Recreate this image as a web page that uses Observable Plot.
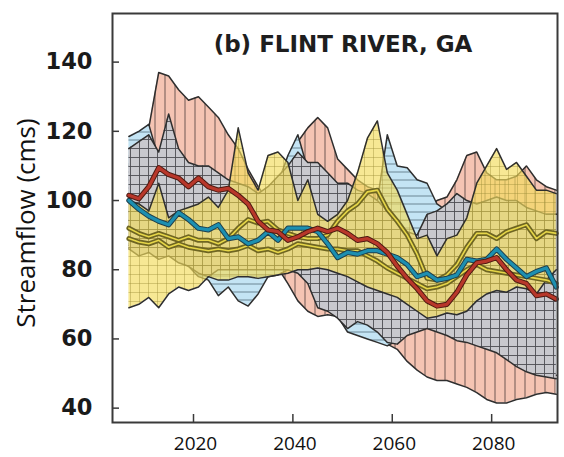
<!DOCTYPE html>
<html><head><meta charset="utf-8">
<script src="https://cdn.jsdelivr.net/npm/d3@7"></script>
<script src="https://cdn.jsdelivr.net/npm/@observablehq/plot@0.6"></script>
<style>html,body{margin:0;padding:0;background:#fff}#chart svg{display:block}</style>
</head><body><div id="chart"></div>
<script>
const years = [2007,2009,2011,2013,2015,2017,2019,2021,2023,2025,2027,2029,2031,2033,2035,2037,2039,2041,2043,2045,2047,2049,2051,2053,2055,2057,2059,2061,2063,2065,2067,2069,2071,2073,2075,2077,2079,2081,2083,2085,2087,2089,2091,2093];

const pinkHi = [110,112,121,137,136,132,129,130,127,124,119,115,109,104,100,102,108,117,121,124,121,112,109,106,104,103,101,99,97,95,97,100,101,106,113,114,108,106,106,107,110,106,104,103];
const pinkLo = [87.5,86,86.5,85,85.5,84,83,82,81,81,81,81,81,81,81,80.5,76,71,68,66.5,67,66.5,62.5,61.5,60.5,59.5,58.5,57,53.5,51,49,48,48,47,46,44.5,42.5,41.5,41.5,42.5,43,44,44.5,44];
const blueHi = [118.5,120,122,112,110,108,106,105,104,103,102,101,100,100,102,105,113,119,109,107,105,103,102,101,101,100,119,110,109.5,106,105,99,97,96,96,97,98,99,99,98,97,96,96,96];
const blueLo = [87,85,86,84,85,83,81,78,77,72.5,75,71,69.5,73,78,78.5,80,79.5,76.5,69.5,68.5,66.5,62,61,60,59,58,59.5,62,63,64,63,62,60.5,60,59,58,57,55,53,51.5,50.5,50,49.5];
const grayHi = [115,117,119,114,125,115,111,110,110,108,106,105,104,102,104,107,110,114,111,111,108,105,105,103,102,100,97,94,91,90,96,97,99,102,100,99,100,101,100,100,98,97,96,96];
const grayLo = [86,84,85,83,84,82,81,79,78,80,80,80,80,80,80,80,80,79,76,69,68,66,63,65,64,62,59,58.5,61,62,63,62,61,59.5,59,58,57,56,54,52,50.5,49.5,49,48.5];
const yelHi = [100,99,97,105,95,97,98,99,101,98,103,121,108,103,113,114,111,100,106,96,94,96,100,108,118,123,108,103,96,89,90,84,89,90,95,105,110,115,109,111,107,103,103,102];
const yelLo = [69,70,72,69,73,75,74,75,78,77,77,78,78,77.5,78,78.5,79,80,80,80.5,80,79,78,76.5,75,74,73,72,70,68,66,66.5,67.5,67,68,71,73,74,73.5,75,74.5,73,77,80];
const redLine = [101.5,100.5,104,109.5,107.5,106.5,104,106.5,104,103,103.5,101.5,99,94,91.5,91,88.5,89.5,91,92,91,92,90.5,88.5,89,87.5,85,81,77.5,74.5,71,69.5,70,73.5,78.5,82,82.5,83.5,80,77,76,72.5,73,71.5];
const tealLine = [100,97.5,95.5,94,93,96.5,94.5,92,91.5,93,89,89.5,87.5,88.5,91,88.5,92,92,92,91,87.5,83.5,85,84.5,85.5,85.5,84.5,83.5,81.5,78,79,77,77.5,78.5,83,82.5,83,86,83,80.5,78,79.5,80.5,75];
const oliveUpper = [92,90.5,89.5,90.5,89.5,88.5,89.5,88.5,88.5,87.5,89,92,94.5,93.5,94,91.5,90.5,89.5,89,89,90,94,97,99,102.5,103,97.5,94,90,84.5,77.5,77,78.5,81.5,86.5,90.5,90.5,89,91,92,93,89,91,90.5];
const oliveLower = [89,88,87.5,88.5,86.5,87.5,86.5,86,85.5,86,85.5,86,87,85.5,86,85,86,87.5,87,86.5,86,86,85.5,85.5,84,82.5,80.5,79,77.5,76,74.5,75,76,78,80,81.5,80,79.5,79,78.5,78,77.5,77,76];

const yTicks = [40,60,80,100,120,140];
const xTicks = [2020,2040,2060,2080];
const titleText = "(b) FLINT RIVER, GA";
const yTitle = "Streamflow (cms)";

const rows = years.map((year, i) => ({
  year,
  pinkHi: pinkHi[i], pinkLo: pinkLo[i],
  blueHi: blueHi[i], blueLo: blueLo[i],
  grayHi: grayHi[i], grayLo: grayLo[i],
  yelHi: yelHi[i], yelLo: yelLo[i],
  red: redLine[i], teal: tealLine[i],
  oliveU: oliveUpper[i], oliveL: oliveLower[i]
}));

const outline = "#2e2e2e";
function band(lo, hi, pat) {
  return [
    Plot.areaY(rows, {x: "year", y1: lo, y2: hi, fill: pat}),
    Plot.lineY(rows, {x: "year", y: hi, stroke: outline, strokeWidth: 1.5}),
    Plot.lineY(rows, {x: "year", y: lo, stroke: outline, strokeWidth: 1.5})
  ];
}
function doubleLine(key, outer, inner, wo, wi) {
  return [
    Plot.lineY(rows, {x: "year", y: key, stroke: outer, strokeWidth: wo, strokeLinejoin: "round"}),
    Plot.lineY(rows, {x: "year", y: key, stroke: inner, strokeWidth: wi, strokeLinejoin: "round"})
  ];
}

const chart = Plot.plot({
  width: 564,
  height: 457,
  marginLeft: 112,
  marginRight: 7,
  marginTop: 13,
  marginBottom: 35,
  x: {domain: [2003.7, 2093.25], label: null},
  y: {domain: [35.85, 154.05], label: null},
  style: {background: "#fff", overflow: "visible"},
  marks: [
    ...band("pinkLo", "pinkHi", "url(#pinkHatch)"),
    ...band("blueLo", "blueHi", "url(#blueHatch)"),
    ...band("grayLo", "grayHi", "url(#grayHatch)"),
    ...band("yelLo", "yelHi", "url(#yelHatch)"),
    ...doubleLine("oliveL", "#6e6522", "#e6d648", 5, 1.6),
    ...doubleLine("oliveU", "#6e6522", "#e6d648", 5, 1.6),
    ...doubleLine("teal", "#1f3f4c", "#1d8fb0", 5.2, 3.2),
    ...doubleLine("red", "#4e1a12", "#b8372a", 5.2, 3.2),
    Plot.frame({stroke: "#3a3a3a", strokeWidth: 2}),
    Plot.axisY(yTicks, {tickSize: 7, dx: 7, text: null, stroke: "#3a3a3a", strokeWidth: 1.5}),
    Plot.axisX(xTicks, {tickSize: 8, dy: -8, text: null, stroke: "#3a3a3a", strokeWidth: 1.5}),
    Plot.axisY(yTicks, {tickSize: 0, tickPadding: 20, fontSize: 22.5, fontFamily: "DejaVu Sans", fontWeight: "bold", fill: "#1a1a1a", label: null}),
    Plot.axisX(xTicks, {tickSize: 0, tickPadding: 14, fontSize: 19, fontFamily: "Open Sans", fill: "#111", dx: 2, tickFormat: d => String(d), label: null}),
    Plot.text([yTitle], {frameAnchor: "left", textAnchor: "middle", lineAnchor: "middle", rotate: -90, dx: -86, dy: 5, fontSize: 26, fontFamily: "Open Sans", fill: "#111"}),
    Plot.text([titleText], {frameAnchor: "top", textAnchor: "middle", lineAnchor: "middle", dx: 8, dy: 31, fontSize: 23, fontFamily: "DejaVu Sans", fontWeight: "bold", fill: "#1e1e1e"})
  ]
});

const defs = `
<pattern id="pinkHatch" patternUnits="userSpaceOnUse" width="10" height="10">
  <rect width="10" height="10" fill="#f5c4b3"/>
  <line x1="5" y1="0" x2="5" y2="10" stroke="#6f5853" stroke-width="1"/>
</pattern>
<pattern id="blueHatch" patternUnits="userSpaceOnUse" width="8" height="8">
  <rect width="8" height="8" fill="#c4e4f4"/>
  <line x1="0" y1="4" x2="8" y2="4" stroke="#6b8794" stroke-width="1"/>
</pattern>
<pattern id="grayHatch" patternUnits="userSpaceOnUse" width="9" height="9">
  <rect width="9" height="9" fill="#c9c9ce"/>
  <line x1="4.5" y1="0" x2="4.5" y2="9" stroke="#4e4e52" stroke-width="0.9"/>
  <line x1="0" y1="4.5" x2="9" y2="4.5" stroke="#4e4e52" stroke-width="0.9"/>
</pattern>
<pattern id="yelHatch" patternUnits="userSpaceOnUse" width="9" height="9">
  <rect width="9" height="9" fill="#f3dc5c" fill-opacity="0.66"/>
  <line x1="4.5" y1="0" x2="4.5" y2="9" stroke="#9a8c34" stroke-width="0.8" stroke-opacity="0.5"/>
  <line x1="0" y1="4.5" x2="9" y2="4.5" stroke="#9a8c34" stroke-width="0.8" stroke-opacity="0.5"/>
</pattern>`;
const defsEl = document.createElementNS("http://www.w3.org/2000/svg", "defs");
defsEl.innerHTML = defs;
chart.insertBefore(defsEl, chart.firstChild);
document.getElementById("chart").appendChild(chart);
</script></body></html>
